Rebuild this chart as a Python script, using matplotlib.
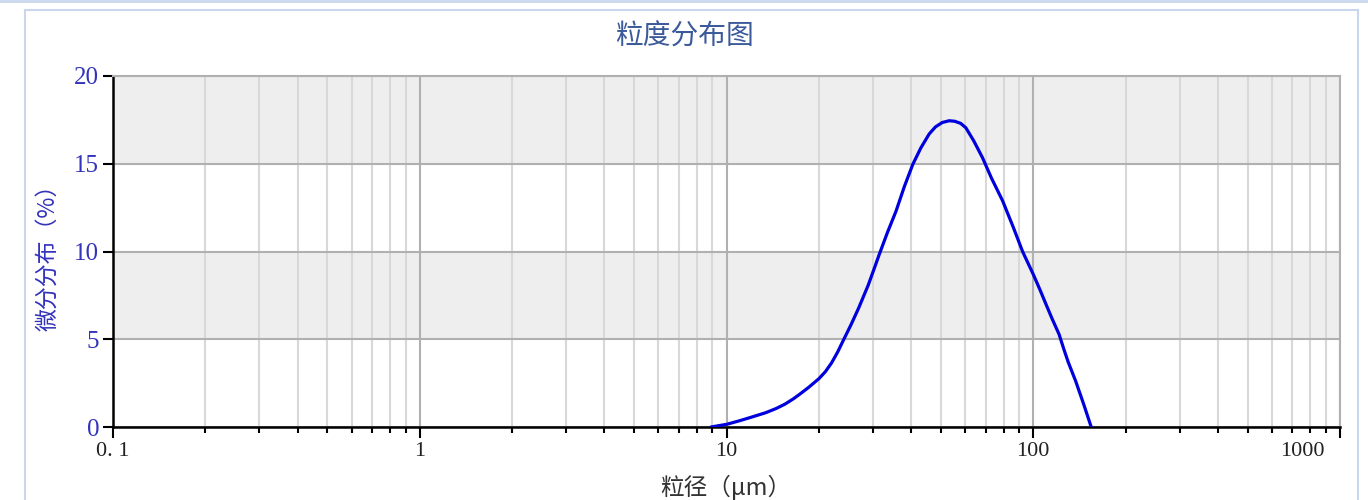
import numpy as np
import matplotlib
matplotlib.use('Agg')
import matplotlib.pyplot as plt
import matplotlib.ticker as ticker
from matplotlib.patches import Rectangle
from matplotlib.transforms import ScaledTranslation

cjk = ['Noto Sans CJK SC', 'DejaVu Sans']
num_font = 'Liberation Serif'

# ---------------- data ----------------
size_um = [8.9, 10.0, 11.0, 12.0, 13.4, 14.5, 15.5, 16.5, 17.3, 18.5, 20.0,
           21.0, 22.0, 23.0, 23.9, 25.5, 27.0, 29.0, 30.7, 31.5, 33.5, 35.7, 38.0,
           40.5, 43.0, 45.8, 48.0, 50.5, 53.2, 55.5, 58.0, 60.3, 64.0, 68.3,
           73.0, 79.4, 86.0, 92.3, 100.0, 105.0, 110.0, 115.0, 121.4, 126.0,
           130.0, 137.6, 146.0, 154.5]
diff_pct = [0.0, 0.15, 0.35, 0.55, 0.81, 1.05, 1.3, 1.6, 1.86, 2.25, 2.75,
            3.15, 3.65, 4.25, 4.85, 5.85, 6.8, 8.1, 9.3, 9.85, 11.1, 12.3, 13.7,
            14.97, 15.9, 16.7, 17.1, 17.35, 17.45, 17.42, 17.3, 17.05, 16.3, 15.35,
            14.2, 12.9, 11.4, 10.0, 8.7, 7.85, 7.0, 6.2, 5.28, 4.4,
            3.7, 2.6, 1.3, 0.0]

xticks = [0.1, 1, 10, 100, 1000]
xtick_labels = ['0. 1', '1', '10', '100', '1000']
yticks = [0, 5, 10, 15, 20]

title = '粒度分布图'
xlabel = '粒径（μm）'
ylabel = '微分分布（%）'

# ---------------- figure ----------------
fig = plt.figure(figsize=(13.68, 5.0), dpi=100)
ax = fig.add_axes([113/1368, 1-427/500, (1340-113)/1368, (427-76)/500])

# outer frame of the report panel
fig.patches.append(Rectangle((25/1368, -0.1), (1358-25)/1368, 1.1-10/500,
                             transform=fig.transFigure, fill=False,
                             edgecolor='#c9d6ec', linewidth=1.5, zorder=0))
fig.add_artist(plt.Line2D([0, 1], [0.999, 0.999], color='#c9d6ec', lw=2))

# alternating bands
for lo, hi in [(5, 10), (15, 20)]:
    ax.axhspan(lo, hi, color='#eeeeee', zorder=0, lw=0)

ax.set_xscale('log')
ax.set_xlim(0.1, 1000)
ax.set_ylim(0, 20)

ax.xaxis.set_major_locator(ticker.FixedLocator(xticks))
ax.xaxis.set_minor_locator(ticker.LogLocator(base=10, subs=np.arange(2, 10), numticks=20))
ax.xaxis.set_minor_formatter(ticker.NullFormatter())
ax.set_xticks(xticks)
ax.set_xticklabels(xtick_labels, fontfamily=num_font, fontsize=16, color='#222222')
ax.set_yticks(yticks)
ax.set_yticklabels([str(v) for v in yticks], fontfamily=num_font, fontsize=18, color='#3333bb')

ax.grid(which='major', axis='x', color='#b0b0b0', lw=1.5, zorder=1)
ax.grid(which='minor', axis='x', color='#d8d8d8', lw=1.5, zorder=1)
ax.grid(which='major', axis='y', color='#b0b0b0', lw=1.5, zorder=1)
ax.set_axisbelow(True)

ax.tick_params(axis='x', which='major', length=8, width=1.5, direction='out', pad=3)
ax.tick_params(axis='x', which='minor', length=4, width=1.5, direction='out')
ax.tick_params(axis='y', which='major', length=7, width=1.5, direction='out', pad=3)

for s in ['left', 'bottom']:
    ax.spines[s].set_linewidth(1.8)
    ax.spines[s].set_color('black')
for s in ['top', 'right']:
    ax.spines[s].set_linewidth(1.5)
    ax.spines[s].set_color('#b0b0b0')

# shift last x label left so it stays inside
lab = ax.get_xticklabels()[-1]
lab.set_transform(lab.get_transform() + ScaledTranslation(-0.38, 0, fig.dpi_scale_trans))

ax.plot(size_um, diff_pct, color='#0000dd', lw=2.3, zorder=3,
        solid_joinstyle='round', solid_capstyle='round')

fig.text(684/1368, 1-37/500, title, fontfamily=cjk, fontsize=20, color='#3b5a9a',
         ha='center', va='center')
fig.text(48/1368, 1-252/500, ylabel, fontfamily=cjk, fontsize=16.5, color='#3333bb',
         ha='center', va='center', rotation=90)
fig.text(726/1368, 1-487/500, xlabel, fontfamily=cjk, fontsize=17, color='#333333',
         ha='center', va='center')

fig.savefig('out.png', dpi=100)
